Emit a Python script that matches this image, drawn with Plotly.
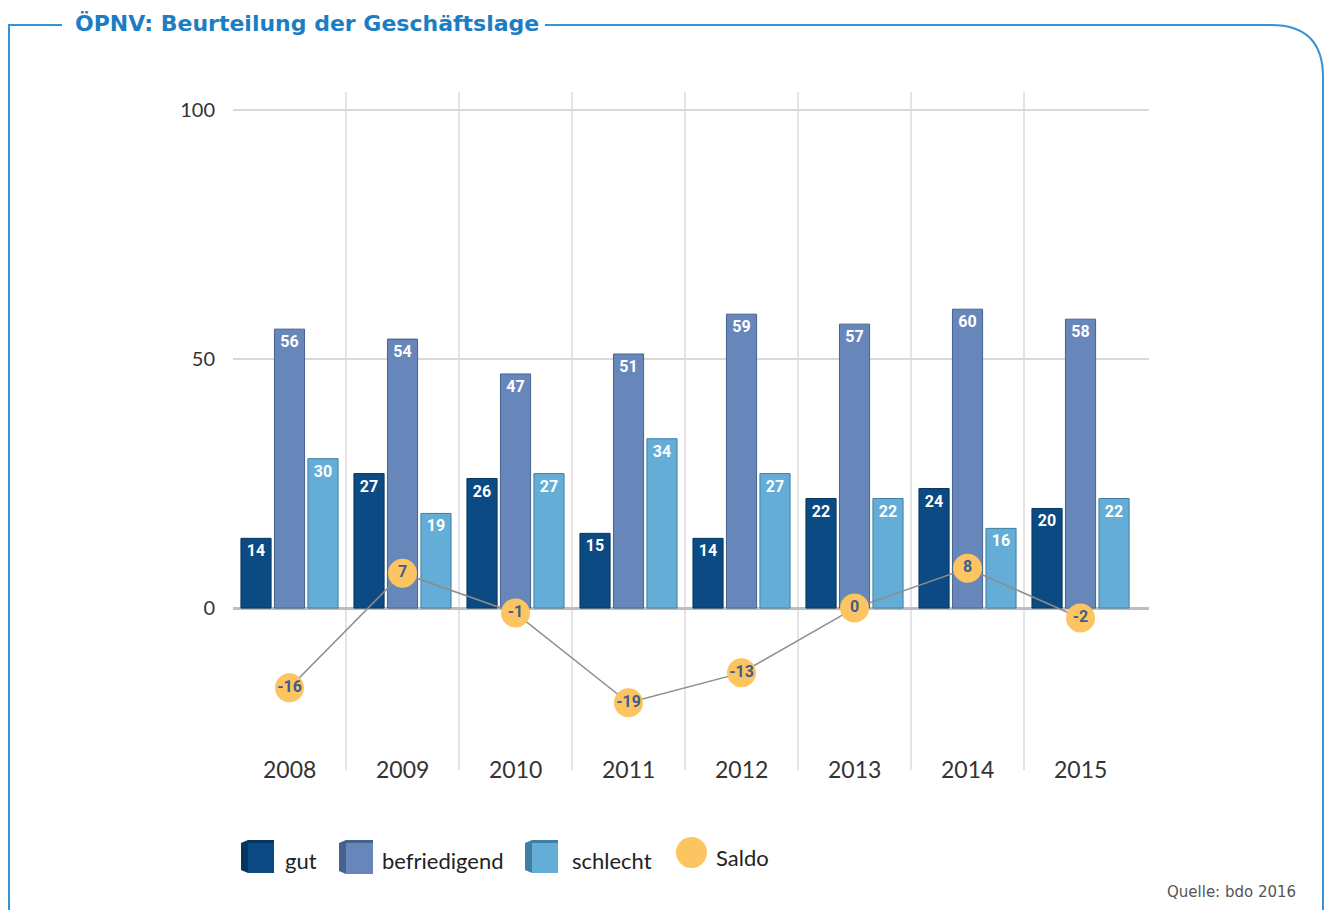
import plotly.graph_objects as go

years = ["2008", "2009", "2010", "2011", "2012", "2013", "2014", "2015"]
gut = [14, 27, 26, 15, 14, 22, 24, 20]
befriedigend = [56, 54, 47, 51, 59, 57, 60, 58]
schlecht = [30, 19, 27, 34, 27, 22, 16, 22]
saldo = [-16, 7, -1, -19, -13, 0, 8, -2]
series_names = ["gut", "befriedigend", "schlecht", "Saldo"]
y_ticks = [0, 50, 100]

C_GUT = "#0b4a82"
C_BEF = "#6787bb"
C_SCH = "#64add6"
C_SAL = "#fdc462"
FRAME = "#3a92d4"

OFF = 8  # page body margin
W, H = 1325, 902
L, R, T, B = 233, 1149, 92, 770  # screen coordinates of plot area
XR = 1323  # right frame edge (screen)
xs = list(range(len(years)))


def px(x):
    return (x - L) / (R - L)


def py(y):
    return (B - y) / (B - T)


fig = go.Figure()
for name, vals, col, edge in [
    (series_names[0], gut, C_GUT, "#06365f"),
    (series_names[1], befriedigend, C_BEF, "#45618f"),
    (series_names[2], schlecht, C_SCH, "#3f7fa3"),
]:
    fig.add_trace(go.Bar(
        x=xs, y=vals, name=name, marker=dict(color=col, line=dict(color=edge, width=1)),
        text=[str(v) for v in vals], textposition="inside", insidetextanchor="end",
        textangle=0, constraintext="none",
        textfont=dict(family="Roboto", size=16, color="white", weight="bold"),
        showlegend=False, cliponaxis=False,
    ))

fig.add_trace(go.Scatter(
    x=xs, y=saldo, name=series_names[3], mode="lines+markers+text",
    line=dict(color="#8c8c8c", width=1.5),
    marker=dict(size=29, color=C_SAL, line=dict(width=0)),
    text=[str(v) for v in saldo], textposition="middle center",
    textfont=dict(family="Roboto", size=16, color="#3f5f8a", weight="bold"),
    showlegend=False, cliponaxis=False,
))

shapes = []
for i in range(len(years) - 1):
    shapes.append(dict(type="line", xref="x", yref="paper", x0=i + 0.5, x1=i + 0.5,
                       y0=0, y1=1, line=dict(color="#dcdcdc", width=1.5), layer="below"))

r = 52
path = (f"M {px(62)},{py(25)} L {px(9)},{py(25)} L {px(9)},{py(921)} "
        f"M {px(545)},{py(25)} L {px(XR - r)},{py(25)} "
        f"Q {px(XR)},{py(25)} {px(XR)},{py(25 + r)} L {px(XR)},{py(921)}")
shapes.append(dict(type="path", xref="paper", yref="paper", path=path,
                   line=dict(color=FRAME, width=2)))


def cube(x0, y0, s, front, side):
    d = 7
    out = []
    out.append(dict(type="path", xref="paper", yref="paper", fillcolor=side,
                    line=dict(width=0),
                    path=(f"M {px(x0)},{py(y0 + 3)} L {px(x0 + d)},{py(y0)} L {px(x0 + s)},{py(y0)} "
                          f"L {px(x0 + s)},{py(y0 + s - 3)} L {px(x0 + d)},{py(y0 + s)} L {px(x0)},{py(y0 + s - 3)} Z")))
    out.append(dict(type="rect", xref="paper", yref="paper", fillcolor=front,
                    line=dict(width=0),
                    x0=px(x0 + d), x1=px(x0 + s), y0=py(y0 + 3), y1=py(y0 + s)))
    return out

shapes += cube(241, 840, 33, C_GUT, "#06365f")
shapes += cube(339, 840, 34, C_BEF, "#45618f")
shapes += cube(525, 840, 33, C_SCH, "#3f7fa3")
shapes.append(dict(type="circle", xref="paper", yref="paper", fillcolor=C_SAL,
                   line=dict(width=0), x0=px(676), x1=px(707), y0=py(837), y1=py(868)))

annotations = []
for i, yr in enumerate(years):
    annotations.append(dict(x=i, y=py(769), xref="x", yref="paper", text=yr, showarrow=False,
                            font=dict(family="Lato", size=23, color="#333333"),
                            xanchor="center", yanchor="middle"))

for label, x, y in [(series_names[0], 283, 860), (series_names[1], 380, 860),
                    (series_names[2], 570, 860), (series_names[3], 714, 857)]:
    annotations.append(dict(x=px(x), y=py(y), xref="paper", yref="paper", text=label,
                            showarrow=False, xanchor="left", yanchor="middle",
                            font=dict(family="Lato", size=22, color="#222222")))

annotations.append(dict(x=px(73), y=py(24), xref="paper", yref="paper",
                        text="ÖPNV: Beurteilung der Geschäftslage", showarrow=False,
                        xanchor="left", yanchor="middle",
                        font=dict(family="DejaVu Sans", size=22, color="#1b7dc3", weight="bold")))
annotations.append(dict(x=px(1298), y=py(892), xref="paper", yref="paper",
                        text="Quelle: bdo 2016", showarrow=False,
                        xanchor="right", yanchor="middle",
                        font=dict(family="DejaVu Sans", size=15, color="#555555")))

fig.update_layout(
    width=W, height=H, margin=dict(l=L - OFF, r=W - (R - OFF), t=T - OFF, b=H - (B - OFF), pad=0),
    paper_bgcolor="white", plot_bgcolor="white",
    barmode="group", bargap=0.111, bargroupgap=0.1,
    xaxis=dict(range=[-0.5, 7.606], showgrid=False, zeroline=False, showticklabels=False,
               showline=False, fixedrange=True),
    yaxis=dict(range=[-32.5, 103.6], tickvals=y_ticks, ticktext=[str(v) for v in y_ticks],
               showgrid=True, gridcolor="#d9d9d9", gridwidth=2,
               zeroline=True, zerolinecolor="#bdbdbd", zerolinewidth=3,
               tickfont=dict(family="Lato", size=20, color="#333333"),
               ticks="", ticklabelstandoff=17, showline=False),
    shapes=shapes, annotations=annotations, showlegend=False,
)

fig.write_html("out.html")
